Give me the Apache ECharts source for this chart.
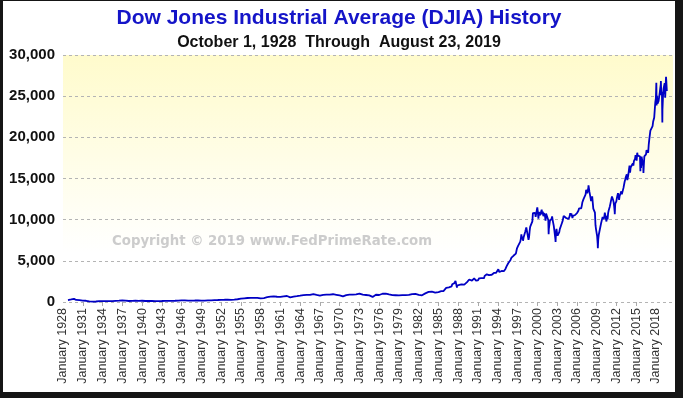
<!DOCTYPE html>
<html>
<head>
    <title>Dow Jones Industrial Average (DJIA) History</title>
    <script src="https://cdn.jsdelivr.net/npm/echarts@6.0.0/dist/echarts.min.js"></script>
    <style>
        body { margin: 0; background: #151515; width: 683px; height: 398px; overflow: hidden; }
        #chart { position: absolute; left: 3px; top: 1px; width: 672px; height: 391px; background: #ffffff; }
    </style>
</head>
<body>
    <div id="chart"></div>
    <script>
        // tick labels on the x axis (every 3 years)
        var tickYears = [1928, 1931, 1934, 1937, 1940, 1943, 1946, 1949, 1952, 1955, 1958, 1961, 1964,
            1967, 1970, 1973, 1976, 1979, 1982, 1985, 1988, 1991, 1994, 1997, 2000, 2003, 2006, 2009,
            2012, 2015, 2018];

        // quarter-end closes: Dec 1928, then Mar/Jun/Sep/Dec 1929 .. 1984
        var quarterlyCloses = [300,
            308, 333, 343, 248,   286, 226, 204, 165,   172, 150, 96, 78,   73, 43, 72, 60,
            55, 98, 94, 100,      100, 96, 90, 104,     100, 118, 131, 144,  156, 157, 167, 180,
            187, 170, 154, 121,   99, 134, 141, 155,    131, 131, 152, 150,  148, 122, 132, 131,
            122, 123, 127, 111,   99, 103, 109, 119,    136, 143, 141, 136,  138, 148, 146, 152,
            155, 165, 181, 193,   199, 206, 172, 177,   177, 177, 178, 181,  177, 189, 178, 177,
            177, 167, 182, 200,   206, 209, 226, 235,   248, 242, 271, 269,  270, 274, 271, 291,
            280, 268, 264, 281,   303, 334, 361, 404,   409, 451, 466, 488,  511, 492, 475, 499,
            474, 503, 456, 435,   446, 478, 532, 583,   601, 643, 631, 679,  616, 640, 580, 615,
            676, 683, 701, 731,   706, 561, 578, 652,   682, 706, 743, 763,  813, 831, 875, 874,
            889, 868, 930, 969,   924, 870, 774, 785,   865, 860, 926, 905,  840, 897, 935, 943,
            935, 873, 813, 800,   785, 683, 760, 838,   904, 891, 887, 890,  940, 929, 953, 1020,
            951, 891, 947, 851,   846, 802, 607, 616,   768, 878, 793, 852,  999, 1002, 990, 1004,
            919, 916, 847, 831,   757, 819, 865, 805,   862, 841, 878, 838,  785, 867, 932, 963,
            1003, 976, 849, 875,  822, 811, 896, 1046,  1130, 1222, 1233, 1258, 1164, 1132, 1206, 1211];

        // month-end closes: Jan 1985 .. Aug 2019
        var monthlyCloses = [
            1287, 1284, 1266, 1258, 1315, 1336, 1348, 1334, 1329, 1375, 1472, 1547,
            1571, 1709, 1819, 1784, 1877, 1893, 1775, 1898, 1768, 1878, 1914, 1896,
            2158, 2224, 2305, 2286, 2292, 2419, 2572, 2663, 2596, 1994, 1834, 1939,
            1959, 2072, 1988, 2032, 2031, 2142, 2129, 2032, 2113, 2149, 2115, 2169,
            2343, 2259, 2294, 2419, 2481, 2440, 2661, 2737, 2693, 2645, 2706, 2753,
            2591, 2627, 2707, 2657, 2877, 2881, 2905, 2614, 2453, 2442, 2560, 2634,
            2736, 2882, 2914, 2888, 3028, 2907, 3025, 3044, 3017, 3069, 2895, 3169,
            3224, 3268, 3236, 3359, 3397, 3319, 3394, 3257, 3272, 3226, 3305, 3301,
            3310, 3371, 3435, 3428, 3527, 3516, 3540, 3651, 3555, 3681, 3684, 3754,
            3978, 3832, 3636, 3682, 3758, 3625, 3765, 3913, 3843, 3908, 3739, 3834,
            3844, 4011, 4158, 4321, 4465, 4556, 4709, 4611, 4789, 4756, 5075, 5117,
            5395, 5486, 5588, 5569, 5643, 5655, 5529, 5616, 5882, 6029, 6522, 6448,
            6813, 6878, 6584, 7009, 7331, 7673, 8223, 7622, 7945, 7442, 7823, 7908,
            7907, 8546, 8800, 9063, 8900, 8952, 8883, 7539, 7843, 8592, 9117, 9181,
            9359, 9307, 9786, 10789, 10560, 10971, 10655, 10829, 10337, 10729, 10878, 11497,
            10941, 10128, 10922, 10734, 10522, 10448, 10522, 11215, 10651, 10971, 10415, 10788,
            10887, 10495, 9879, 10735, 10912, 10502, 10523, 9950, 8848, 9075, 9852, 10022,
            9920, 10106, 10404, 9946, 9925, 9243, 8737, 8664, 7592, 8397, 8896, 8342,
            8054, 7891, 7992, 8480, 8850, 8985, 9234, 9416, 9275, 9801, 9782, 10454,
            10488, 10584, 10358, 10226, 10188, 10435, 10140, 10174, 10080, 10027, 10428, 10783,
            10490, 10766, 10504, 10193, 10467, 10275, 10641, 10482, 10569, 10440, 10806, 10718,
            10865, 10993, 11109, 11367, 11168, 11150, 11186, 11381, 11679, 12081, 12222, 12463,
            12622, 12269, 12354, 13063, 13628, 13409, 13212, 13358, 13896, 13930, 13372, 13265,
            12650, 12266, 12263, 12820, 12638, 11350, 11378, 11544, 10851, 9325, 8829, 8776,
            8001, 7063, 7609, 8168, 8500, 8447, 9172, 9496, 9712, 9713, 10344, 10428,
            10067, 10325, 10857, 11009, 10137, 9774, 10466, 10015, 10788, 11118, 11006, 11578,
            11892, 12226, 12320, 12811, 12570, 12414, 12143, 11614, 10913, 11955, 12046, 12218,
            12633, 12952, 13212, 13214, 12393, 12880, 13009, 13091, 13437, 13096, 13026, 13104,
            13861, 14054, 14579, 14840, 15116, 14910, 15500, 14810, 15130, 15546, 16086, 16577,
            15699, 16322, 16458, 16581, 16717, 16827, 16563, 17098, 17043, 17391, 17828, 17823,
            17165, 18133, 17776, 17841, 18011, 17620, 17690, 16528, 16285, 17664, 17720, 17425,
            16466, 16517, 17685, 17774, 17787, 17930, 18432, 18401, 18308, 18142, 19124, 19763,
            19864, 20812, 20663, 20941, 21009, 21350, 21891, 21948, 22405, 23377, 24272, 24719,
            26149, 25029, 24103, 24163, 24416, 24271, 25415, 25965, 26458, 25116, 25538, 23327,
            24999, 25916, 25929, 26593, 24815, 26600, 26864, 25629];

        // notable daily highs / lows between month ends
        var extremePoints = [
            ['1928-10-01', 240], ['1929-09-03', 381], ['1932-07-08', 41], ['1937-03-10', 194],
            ['1987-08-25', 2722], ['1987-10-19', 1739], ['2000-01-14', 11723], ['2001-09-21', 8236],
            ['2002-10-09', 7286], ['2007-10-09', 14165], ['2009-03-09', 6547], ['2010-07-02', 9686],
            ['2011-10-03', 10655], ['2015-08-24', 15871], ['2016-02-11', 15660], ['2018-01-26', 26617],
            ['2018-02-08', 23860], ['2018-10-03', 26828], ['2018-12-24', 21792], ['2019-07-15', 27359],
            ['2019-06-03', 24820]];

        // x = years since January 1928
        var points = [];
        quarterlyCloses.forEach(function (v, i) {
            var x = i === 0 ? 1 : 1 + Math.floor((i - 1) / 4) + 3 * ((i - 1) % 4 + 1) / 12;
            points.push([x, v]);
        });
        monthlyCloses.forEach(function (v, i) {
            points.push([1985 - 1928 + Math.floor(i / 12) + (i % 12 + 1) / 12, v]);
        });
        extremePoints.forEach(function (p) {
            var d = p[0].split('-').map(Number);
            points.push([d[0] - 1928 + (d[1] - 1 + d[2] / 31) / 12, p[1]]);
        });
        points.sort(function (a, b) { return a[0] - b[0]; });

        var tickOffsets = tickYears.map(function (y) { return y - 1928; });
        // first and last entries doubled so the min/max-label check drops a copy, not a neighbour
        var labelOffsets = [tickOffsets[0]].concat(tickOffsets, [tickOffsets[tickOffsets.length - 1]]);

        var chart = echarts.init(document.querySelector('#chart'));
        var option = {
            animation: false,
            title: [{
                text: 'Dow Jones Industrial Average (DJIA) History',
                left: 'center', top: -1, padding: 0,
                textStyle: { fontFamily: 'Liberation Sans', fontSize: 21, fontWeight: 'bold', color: '#1414c8' }
            }, {
                text: 'October 1, 1928  Through  August 23, 2019',
                left: 'center', top: 28, padding: 0,
                textStyle: { fontFamily: 'Liberation Sans', fontSize: 16, fontWeight: 'bold', color: '#111' }
            }],
            grid: {
                left: 60, right: 2, top: 54, bottom: 90,
                show: true, borderWidth: 0,
                backgroundColor: {
                    type: 'linear', x: 0, y: 0, x2: 0, y2: 1,
                    colorStops: [
                        { offset: 0, color: '#fffbcc' },
                        { offset: 0.8, color: '#ffffff' }
                    ]
                }
            },
            graphic: [{
                type: 'text', left: 109, top: 226, silent: true,
                style: {
                    text: 'Copyright \u00a9 2019 www.FedPrimeRate.com',
                    fill: '#cccccc', font: 'bold 13.3px "DejaVu Sans"'
                }
            }],
            xAxis: {
                type: 'value', min: 0, max: 92.6,
                axisLine: { show: false },
                splitLine: { show: false },
                axisTick: { show: true, length: 4, customValues: tickOffsets, lineStyle: { color: '#aaa' } },
                axisLabel: {
                    customValues: labelOffsets, rotate: 90, margin: 6,
                    showMinLabel: false, showMaxLabel: false, hideOverlap: false,
                    fontFamily: 'Liberation Sans', fontSize: 12.5, color: '#333',
                    formatter: function (v) { return 'January ' + (1928 + Math.round(v)); }
                }
            },
            yAxis: {
                type: 'value', min: 0, max: 30000, interval: 5000,
                axisLine: { show: false },
                axisTick: { show: false },
                splitLine: { lineStyle: { type: [3, 3], color: '#b4b4b4' } },
                axisLabel: {
                    margin: 8, fontFamily: 'Liberation Sans', fontSize: 15, fontWeight: 'bold', color: '#111',
                    formatter: function (v) { return v.toLocaleString('en-US'); }
                }
            },
            series: [{
                type: 'line',
                data: points,
                showSymbol: false,
                lineStyle: { color: '#0000c4', width: 1.8 }
            }]
        };
        chart.setOption(option);
    </script>
</body>
</html>
